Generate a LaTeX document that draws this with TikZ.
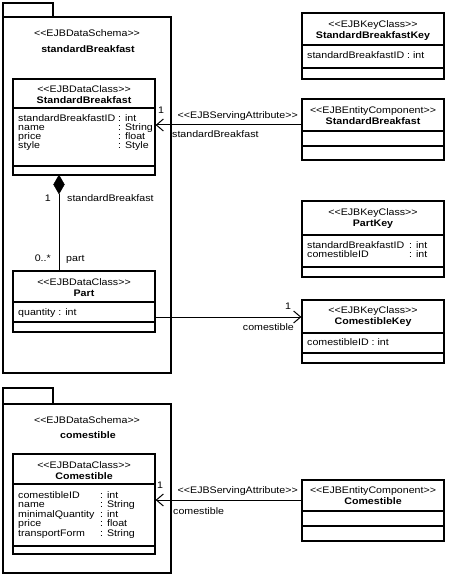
\documentclass[tikz,border=0pt]{standalone}
\usepackage{fontspec}
\setmainfont{Liberation Sans}[FakeStretch=1.12]
\usetikzlibrary{arrows.meta,shapes.geometric}
\newcommand\stereo[1]{<\kern0pt<#1>\kern0pt>}
\begin{document}
\begin{tikzpicture}[x=1pt,y=-1pt,
  every node/.style={inner sep=0pt, font=\fontsize{9.5}{10}\selectfont, text height=6.8pt, text depth=2pt},
  bold/.style={font=\fontsize{9.5}{10}\selectfont\bfseries},
  frame/.style={draw=black, line width=1.2pt, minimum width=142pt},
  pkg/.style={draw=black, line width=1.1pt},
  divl/.style={draw=black, line width=1.2pt},
  conn/.style={draw=black, line width=1pt},
  nav/.style={-{Straight Barb[length=7pt,width=12pt]}},
  comp/.style={diamond, draw=black, fill=black, minimum width=11pt, minimum height=19pt, inner sep=0pt}
]
\useasboundingbox (0,0) rectangle (450,585);
\fill[white] (0,0) rectangle (450,585);

% ---------- package standardBreakfast ----------
\node[pkg, minimum width=50pt, minimum height=14pt, text height=, text depth=] (pkgAtab) at (28,10) {};
\node[pkg, minimum width=168pt, minimum height=356pt, text height=, text depth=] (pkgA) at (87,195) {};
\node (pkgAst) at (87,34) {\stereo{EJBDataSchema}};
\node[bold] (pkgAname) at (88,50) {standardBreakfast};

% class StandardBreakfast
\node[frame, minimum height=96pt, text height=, text depth=] (sbc) at (84,127) {};
\draw[divl] (sbc.west |- 0,108) -- (sbc.east |- 0,108);
\draw[divl] (sbc.west |- 0,166) -- (sbc.east |- 0,166);
\node (sbcst) at (84,90) {\stereo{EJBDataClass}};
\node[bold] (sbcname) at (84,101) {StandardBreakfast};
\node[anchor=west] (sba1) at (18,119) {standardBreakfastID};
\node[anchor=west] (sba2) at (18,128) {name};
\node[anchor=west] (sba3) at (18,137) {price};
\node[anchor=west] (sba4) at (18,146) {style};
\node[anchor=west] (sbt1) at (118,119) {: int};
\node[anchor=west] (sbt2) at (118,128) {: String};
\node[anchor=west] (sbt3) at (118,137) {: float};
\node[anchor=west] (sbt4) at (118,146) {: Style};

% class Part
\node[frame, minimum height=61pt, text height=, text depth=] (part) at (84,301.5) {};
\draw[divl] (part.west |- 0,302) -- (part.east |- 0,302);
\draw[divl] (part.west |- 0,322) -- (part.east |- 0,322);
\node (partst) at (84,283) {\stereo{EJBDataClass}};
\node[bold] (partname) at (84,294) {Part};
\node[anchor=west] (parta1) at (18,313) {quantity : int};

% composition
\node[comp] (dia) at (59,184.5) {};
\draw[conn] (dia.south) -- (dia.south |- part.north);
\node[anchor=east] (m1) at (51,199) {1};
\node[anchor=west] (r1) at (67,199) {standardBreakfast};
\node[anchor=east] (m2) at (51,259) {0..*};
\node[anchor=west] (r2) at (66,259) {part};

% ---------- package comestible ----------
\node[pkg, minimum width=50pt, minimum height=16pt, text height=, text depth=] (pkgBtab) at (28,396) {};
\node[pkg, minimum width=168pt, minimum height=169pt, text height=, text depth=] (pkgB) at (87,488.5) {};
\node (pkgBst) at (87,421) {\stereo{EJBDataSchema}};
\node[bold] (pkgBname) at (88,436) {comestible};

% class Comestible
\node[frame, minimum height=100pt, text height=, text depth=] (com) at (84,504) {};
\draw[divl] (com.west |- 0,484) -- (com.east |- 0,484);
\draw[divl] (com.west |- 0,546) -- (com.east |- 0,546);
\node (comst) at (84,466) {\stereo{EJBDataClass}};
\node[bold] (comname) at (84,477) {Comestible};
\node[anchor=west] (ca1) at (18,496) {comestibleID};
\node[anchor=west] (ca2) at (18,505.5) {name};
\node[anchor=west] (ca3) at (18,515) {minimalQuantity};
\node[anchor=west] (ca4) at (18,524.5) {price};
\node[anchor=west] (ca5) at (18,534) {transportForm};
\node[anchor=west] (ct1) at (100,496) {: int};
\node[anchor=west] (ct2) at (100,505.5) {: String};
\node[anchor=west] (ct3) at (100,515) {: int};
\node[anchor=west] (ct4) at (100,524.5) {: float};
\node[anchor=west] (ct5) at (100,534) {: String};

% ---------- right column ----------
% StandardBreakfastKey
\node[frame, minimum height=66pt, text height=, text depth=] (sbkey) at (373,46) {};
\draw[divl] (sbkey.west |- 0,45) -- (sbkey.east |- 0,45);
\draw[divl] (sbkey.west |- 0,68) -- (sbkey.east |- 0,68);
\node (sbkeyst) at (373,25) {\stereo{EJBKeyClass}};
\node[bold] (sbkeyname) at (373,36) {StandardBreakfastKey};
\node[anchor=west] (sbkeya1) at (307,56.5) {standardBreakfastID : int};

% StandardBreakfast entity
\node[frame, minimum height=61pt, text height=, text depth=] (sbent) at (373,129.5) {};
\draw[divl] (sbent.west |- 0,131) -- (sbent.east |- 0,131);
\draw[divl] (sbent.west |- 0,146) -- (sbent.east |- 0,146);
\node (sbentst) at (373,111) {\stereo{EJBEntityComponent}};
\node[bold] (sbentname) at (373,122) {StandardBreakfast};

% PartKey
\node[frame, minimum height=76pt, text height=, text depth=] (pkey) at (373,239) {};
\draw[divl] (pkey.west |- 0,235) -- (pkey.east |- 0,235);
\draw[divl] (pkey.west |- 0,267) -- (pkey.east |- 0,267);
\node (pkeyst) at (373,213) {\stereo{EJBKeyClass}};
\node[bold] (pkeyname) at (373,224) {PartKey};
\node[anchor=west] (pka1) at (307,246) {standardBreakfastID};
\node[anchor=west] (pka2) at (307,255.5) {comestibleID};
\node[anchor=west] (pkt1) at (409,246) {: int};
\node[anchor=west] (pkt2) at (409,255.5) {: int};

% ComestibleKey
\node[frame, minimum height=63pt, text height=, text depth=] (ckey) at (373,331.5) {};
\draw[divl] (ckey.west |- 0,333) -- (ckey.east |- 0,333);
\draw[divl] (ckey.west |- 0,353) -- (ckey.east |- 0,353);
\node (ckeyst) at (373,311) {\stereo{EJBKeyClass}};
\node[bold] (ckeyname) at (373,322) {ComestibleKey};
\node[anchor=west] (cka1) at (307,343.5) {comestibleID : int};

% Comestible entity
\node[frame, minimum height=61pt, text height=, text depth=] (cent) at (373,510.5) {};
\draw[divl] (cent.west |- 0,511) -- (cent.east |- 0,511);
\draw[divl] (cent.west |- 0,526) -- (cent.east |- 0,526);
\node (centst) at (373,491) {\stereo{EJBEntityComponent}};
\node[bold] (centname) at (373,502) {Comestible};

% ---------- connectors ----------
\draw[conn, nav] (sbent.west |- 0,125) -- (sbc.east |- 0,125);
\node (sm1) at (161,111) {1};
\node[anchor=east] (sl1) at (298,116) {\stereo{EJBServingAttribute}};
\node[anchor=west] (sr1) at (172,135) {standardBreakfast};

\draw[conn, nav] (part.east |- 0,317) -- (ckey.west |- 0,317);
\node (cm1) at (288,307) {1};
\node[anchor=east] (cr1) at (294,328) {comestible};

\draw[conn, nav] (cent.west |- 0,500) -- (com.east |- 0,500);
\node (sm2) at (160,486) {1};
\node[anchor=east] (sl2) at (298,491) {\stereo{EJBServingAttribute}};
\node[anchor=west] (sr2) at (173,512) {comestible};
\end{tikzpicture}
\end{document}
